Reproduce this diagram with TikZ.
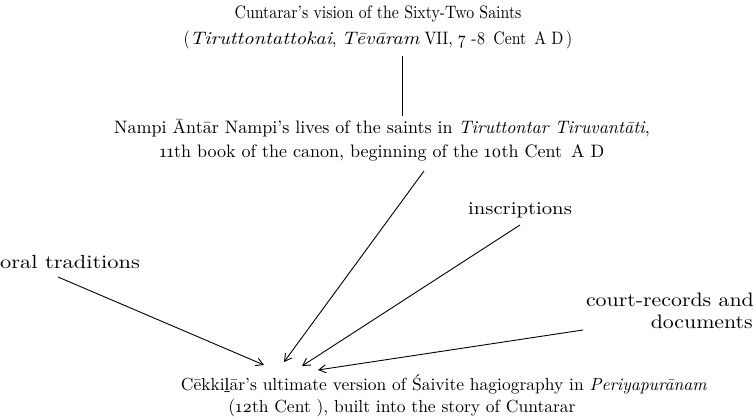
\documentclass[tikz,border=0pt]{standalone}
\usepackage{fontspec}
\setmainfont{lmroman10}[Extension=.otf, UprightFont=*-regular, ItalicFont=*-italic, BoldFont=*-bold, BoldItalicFont=*-bolditalic, Numbers=OldStyle]
\newfontfamily\extrafont{Liberation Serif}
\newcommand{\lline}{{\extrafont ḻ}}
\newcommand{\wide}[2]{\scalebox{#1}[1]{#2}}
\usetikzlibrary{arrows.meta}
\begin{document}
\begin{tikzpicture}[x=1pt,y=-1pt,
  txt/.style={inner sep=0pt, align=center},
  conn/.style={line width=0.9pt},
  arr/.style={line width=0.9pt, -{Straight Barb[length=7pt,width=8pt,line width=0.9pt]}}]
\useasboundingbox (0,0) rectangle (756,420);
\node[txt, font=\fontsize{18}{26}\selectfont] (top) at (378,27) {\wide{0.88}{Cuntarar’s vision of the Sixty-Two Saints}\\\wide{0.88}{(\wide{1.28}{\itshape Tiruttontattokai}, \wide{1.28}{\itshape Tēvāram} VII, 7 -8\enspace Cent\enspace A D\,)}};
\node[txt, font=\fontsize{18}{24}\selectfont] (mid) at (382,140) {Nampi Āntār Nampi’s lives of the saints in \textit{Tiruttontar Tiruvantāti},\\11th book of the canon, beginning of the 10th Cent\enspace A D};
\node[txt, font=\fontsize{18}{22}\selectfont] (insc) at (520,210) {\wide{1.15}{inscriptions}};
\node[txt, font=\fontsize{19}{22}\selectfont, anchor=west] (oral) at (0,262) {\wide{1.18}{oral traditions}};
\node[txt, font=\fontsize{19.5}{22}\selectfont, anchor=east, align=right] (court) at (754,311) {\wide{1.12}{court-records and}\\\wide{1.12}{documents}\hspace*{1pt}};
\node[txt, font=\fontsize{17.5}{22}\selectfont] (bot) at (444,396) {Cēkki\lline ār’s ultimate version of Śaivite hagiography in \textit{Periyapurānam}\\(12th Cent ), built into the story of Cuntarar\hspace*{84pt}};
% connector ends
\coordinate (vtop) at (402,56);
\coordinate (vbot) at (402,116);
\coordinate (s1) at (58,277);
\coordinate (e1) at (264,365);
\coordinate (s2) at (424,171);
\coordinate (e2) at (284,362);
\coordinate (s3) at (520,225);
\coordinate (e3) at (302,366);
\coordinate (s4) at (583,330);
\coordinate (e4) at (318,370);
\draw[conn] (vtop) -- (vbot);
\draw[arr] (s1) -- (e1);
\draw[arr] (s2) -- (e2);
\draw[arr] (s3) -- (e3);
\draw[arr] (s4) -- (e4);
\end{tikzpicture}
\end{document}
